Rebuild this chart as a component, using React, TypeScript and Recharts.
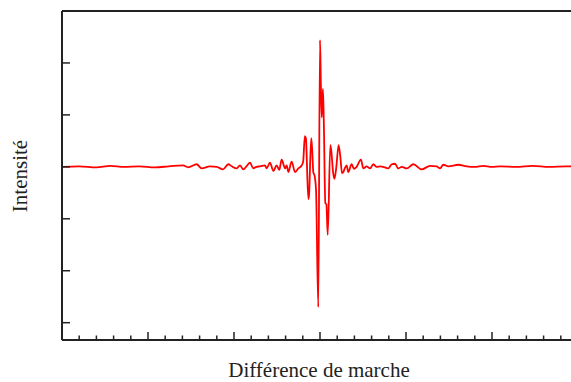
import React from 'react';
import { LineChart, Line, XAxis, YAxis, ReferenceLine } from 'recharts';

// path difference (arbitrary units) and measured intensity
const position = [
  0, 1.0, 2.0, 2.8, 3.6, 4.5, 5.4, 6.2, 7.03, 7.34, 7.83, 8.12, 8.6, 9.0, 9.36, 9.67, 9.87,
  10.16, 10.35, 10.54, 10.75, 10.93, 11.12, 11.3, 11.51, 11.8, 11.9, 12.09, 12.29, 12.48,
  12.63, 12.77, 12.97, 13.06, 13.16, 13.35, 13.55, 13.74, 13.94, 14.02, 14.12, 14.18, 14.32,
  14.36, 14.49, 14.55, 14.61, 14.69, 14.77, 14.9, 15.0, 15.05, 15.1, 15.17, 15.22, 15.31,
  15.37, 15.45, 15.6, 15.66, 15.76, 15.84, 15.95, 16.08, 16.18, 16.28, 16.36, 16.45, 16.55,
  16.64, 16.84, 16.98, 17.13, 17.38, 17.52, 17.71, 17.91, 18.1, 18.3, 18.49, 18.78, 18.97,
  19.17, 19.36, 19.55, 19.75, 20.04, 20.43, 20.91, 21.4, 21.78, 21.98, 22.17, 22.46, 23.04,
  23.53, 24.0, 24.49, 25.0, 25.47, 26.4, 27.38, 28.3, 29.34, 30,
];
const intensity = [
  0, 0.01, -0.01, 0.02, 0, 0.01, -0.01, 0.01, 0.03, -0.01, 0.05, -0.03, 0.01, 0, -0.05, 0.05, 0.01,
  -0.03, 0.03, -0.05, 0.02, 0.08, -0.03, 0, 0.01, 0.03, -0.03, 0.08, -0.08, 0.03,
  -0.06, 0.14, -0.03, 0.03, -0.1, 0.1, -0.1, -0.03, 0.03, 0.1, 0.59, 0.55, -0.62,
  -0.55, 0.55, 0.3, -0.1, -0.18, -0.45, -2.7, 2.44, 1.6, 0.95, 1.5, 0.9, -0.7,
  -0.72, -1.31, 0.42, 0.3, -0.1, -0.23, 0, 0.42, 0.2, -0.12, -0.1, -0.02, 0.03,
  -0.1, 0.05, -0.04, 0, 0.14, -0.03, 0.01, -0.03, 0.05, 0, 0.01, -0.01, -0.03,
  0.05, 0.06, -0.03, 0, -0.03, 0.05, -0.05, 0.02, 0.01, -0.03, 0.04, 0.01, 0.04,
  0.01, 0, 0.02, 0, 0.01, 0, 0.02, 0, 0.01, 0,
];

const xTicks = Array.from({ length: 31 }, (_, i) => i);
const yTicks = [-3, -2, -1, 0, 1, 2];

const data = position.map((x, i) => ({ x, y: intensity[i] }));

const XTick = (props: any) => {
  const { x, y, payload } = props;
  const len = payload.value % 5 === 0 ? 8 : 4.5;
  return <line x1={x} y1={y} x2={x} y2={y - len} stroke="#222" strokeWidth={1.5} />;
};

const YTick = (props: any) => {
  const { x, y } = props;
  return <line x1={x} y1={y} x2={x + 8} y2={y} stroke="#222" strokeWidth={1.5} />;
};

const font = '"Liberation Serif", "Times New Roman", serif';

export default function App() {
  return (
    <div
      style={{
        position: 'fixed',
        left: 0,
        top: 0,
        width: 571,
        height: 382,
        overflow: 'hidden',
        background: '#fff',
      }}
    >
      <LineChart
        width={600}
        height={382}
        data={data}
        margin={{ top: 11, right: 22, bottom: 41, left: 61 }}
      >
        <XAxis
          type="number"
          dataKey="x"
          domain={[0, 30]}
          ticks={xTicks}
          interval={0}
          height={1}
          tickSize={0}
          tickMargin={0}
          tickLine={false}
          tick={<XTick />}
          axisLine={{ stroke: '#222', strokeWidth: 2 }}
        />
        <YAxis
          type="number"
          domain={[-3.3333, 3]}
          ticks={yTicks}
          interval={0}
          width={1}
          tickSize={0}
          tickMargin={0}
          tickLine={false}
          tick={<YTick />}
          axisLine={{ stroke: '#222', strokeWidth: 2 }}
        />
        <ReferenceLine y={3} stroke="#222" strokeWidth={2} />
        <Line
          type="monotone"
          dataKey="y"
          stroke="#ff0000"
          strokeWidth={1.8}
          dot={false}
          isAnimationActive={false}
        />
      </LineChart>
      <svg
        width={571}
        height={382}
        style={{ position: 'absolute', left: 0, top: 0, pointerEvents: 'none' }}
      >
        <text
          x={319}
          y={377}
          textAnchor="middle"
          fontFamily={font}
          fontSize={21}
          fill="#222"
        >
          Différence de marche
        </text>
        <text
          x={0}
          y={0}
          transform="translate(27,176) rotate(-90)"
          textAnchor="middle"
          fontFamily={font}
          fontSize={21}
          fill="#222"
        >
          Intensité
        </text>
      </svg>
    </div>
  );
}
